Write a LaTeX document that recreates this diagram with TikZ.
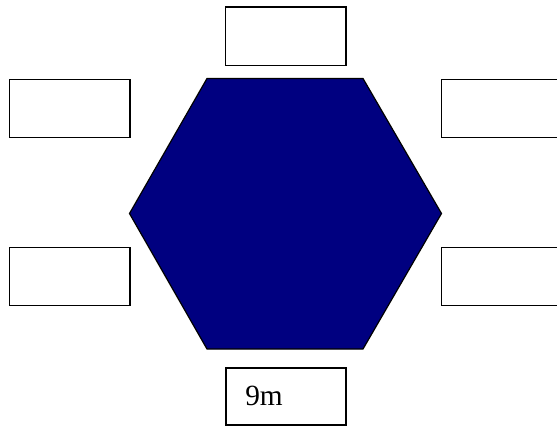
\documentclass[tikz,border=0pt]{standalone}
\usepackage{fontspec}
\setmainfont{Liberation Serif}
\definecolor{hexnavy}{RGB}{0,0,128}
\begin{document}
\begin{tikzpicture}[x=0.75pt,y=-0.75pt,
  labelbox/.style={draw=black,line width=0.9pt,fill=white},
  hexshape/.style={draw=black,line width=0.9pt,fill=hexnavy,line join=miter}]
\useasboundingbox (0,0) rectangle (557,428);
\coordinate (h1) at (207,78.5);
\coordinate (h2) at (363,78.5);
\coordinate (h3) at (441.5,213.5);
\coordinate (h4) at (363,349);
\coordinate (h5) at (207,349);
\coordinate (h6) at (129.5,213.5);
\draw[hexshape] (h1) -- (h2) -- (h3) -- (h4) -- (h5) -- (h6) -- cycle;
\draw[labelbox] (225.5,7) rectangle (346,65.5);
\draw[labelbox] (9.5,79.5) rectangle (130,137.5);
\draw[labelbox] (441.5,79.5) rectangle (570,137.5);
\draw[labelbox] (9.5,247.5) rectangle (130,305.5);
\draw[labelbox] (441.5,247.5) rectangle (570,305.5);
\draw[labelbox] (226,368) rectangle (346,425);
\node[anchor=base west,inner sep=0pt,font=\fontsize{22}{26}\selectfont] (lbl) at (245,405.5) {9m};
\end{tikzpicture}
\end{document}
